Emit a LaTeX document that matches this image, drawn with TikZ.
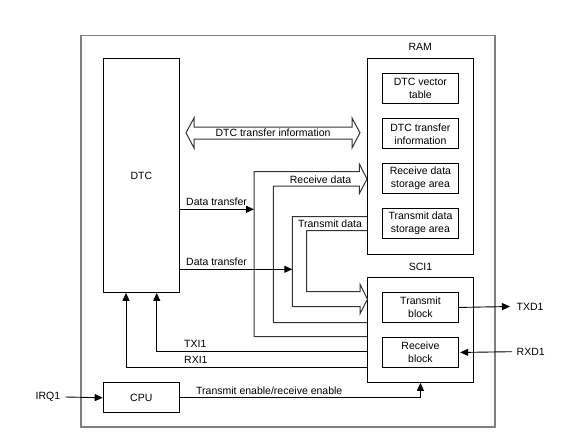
\documentclass[tikz,border=0pt]{standalone}
\usepackage{fontspec}
\setmainfont{Liberation Sans}
\usetikzlibrary{arrows.meta,positioning}

\tikzset{
  blk/.style={draw, line width=0.9pt, inner sep=0pt, align=center, anchor=north west},
  lbl/.style={inner sep=0pt},
  band/.style={draw=black!80, line width=1pt, line join=miter},
  sig/.style={line width=0.9pt, -{Triangle[length=8pt,width=7pt]}},
}

\begin{document}
\begin{tikzpicture}[x=1pt,y=-1pt,font=\fontsize{10.5}{13}\selectfont]
  \useasboundingbox (0,0) rectangle (570,431);

  % outer frame
  \draw[black!50, line width=1.4pt] (81,35.3) rectangle (495,427);

  % blocks
  \node[blk, minimum width=76pt, minimum height=234pt] (dtc) at (103,58) {DTC};
  \node[blk, minimum width=105.5pt, minimum height=196pt] (ram) at (367,58) {};
  \node[lbl, above=7pt of ram] (ramlbl) {RAM};
  \node[blk, minimum width=75.4pt, minimum height=30pt] (vec) at (382.3,73.3) {DTC vector\\table};
  \node[blk, minimum width=75.4pt, minimum height=30pt] (info) at (382.3,118.3) {DTC transfer\\information};
  \node[blk, minimum width=75.4pt, minimum height=30pt] (rxarea) at (382.3,163.3) {Receive data\\storage area};
  \node[blk, minimum width=75.4pt, minimum height=30pt] (txarea) at (382.3,208.3) {Transmit data\\storage area};

  \node[blk, minimum width=106pt, minimum height=105pt] (sci) at (367,277) {};
  \node[lbl, above=6.5pt of sci] (scilbl) {SCI1};
  \node[blk, minimum width=75.4pt, minimum height=30.6pt] (txb) at (382.3,291.7) {Transmit\\block};
  \node[blk, minimum width=75.4pt, minimum height=30.6pt] (rxb) at (382.3,336.7) {Receive\\block};

  \node[blk, minimum width=76.3pt, minimum height=30pt] (cpu) at (102.7,382.3) {CPU};

  % outside signals
  \node[lbl] (irq) at (48,397) {IRQ1};
  \node[lbl, anchor=west] (txd) at (516.5,306.5) {TXD1};
  \node[lbl, anchor=west] (rxd) at (516.5,351.7) {RXD1};

  \draw[sig] ([xshift=5pt]irq.east) -- (cpu.west);
  \draw[sig] (txb.east) -- ([xshift=-6.5pt]txd.west);
  \draw[sig] ([xshift=-4.5pt]rxd.west) -- ([xshift=1.5pt]rxb.east);
  \draw[sig] (cpu.east) -| (sci.south);
  \node[lbl, anchor=west] (enlbl) at (196,390.7) {Transmit enable/receive enable};

  % interrupt requests
  \draw[sig] (sci.west |- 0,351.7) -| (156.7,0 |- dtc.south);
  \draw[sig] (sci.west |- 0,367.3) -| (126,0 |- dtc.south);
  \node[lbl, anchor=west] (txilbl) at (184,344) {TXI1};
  \node[lbl, anchor=west] (rxilbl) at (184,360) {RXI1};

  % DTC transfer information
  \draw[band] (186,132.8) -- (194,118) -- (194,127) -- (352,127) -- (352,118) -- (360,132.8)
    -- (352,148) -- (352,139) -- (194,139) -- (194,148) -- cycle;
  \node[lbl] (infolbl) at (273,133) {DTC transfer information};

  % receive data band
  \draw[band] (sci.west |- 0,336.7) -- (254,336.7) -- (254,171.7) -- (359.3,171.7) -- (359.3,164)
    -- (367,179) -- (359.3,193.6) -- (359.3,186) -- (273.3,186) -- (273.3,322.7) -- (sci.west |- 0,322.7);
  \node[lbl] (rxlbl) at (320.5,179.3) {Receive data};

  % transmit data band
  \draw[band] (ram.west |- 0,216.7) -- (292.3,216.7) -- (292.3,306.7) -- (360,306.7) -- (360,313.8)
    -- (367.5,299.2) -- (360,284.3) -- (360,291.7) -- (306.7,291.7) -- (306.7,230.7) -- (ram.west |- 0,230.7);
  \node[lbl] (txlbl) at (330,224) {Transmit data};

  % DTC data transfers
  \draw[sig] (dtc.east |- 0,209.3) -- (254,209.3);
  \draw[sig] (dtc.east |- 0,269.3) -- (292.3,269.3);
  \node[lbl, anchor=west] (dt1) at (186,201.7) {Data transfer};
  \node[lbl, anchor=west] (dt2) at (186,261.7) {Data transfer};
\end{tikzpicture}
\end{document}
